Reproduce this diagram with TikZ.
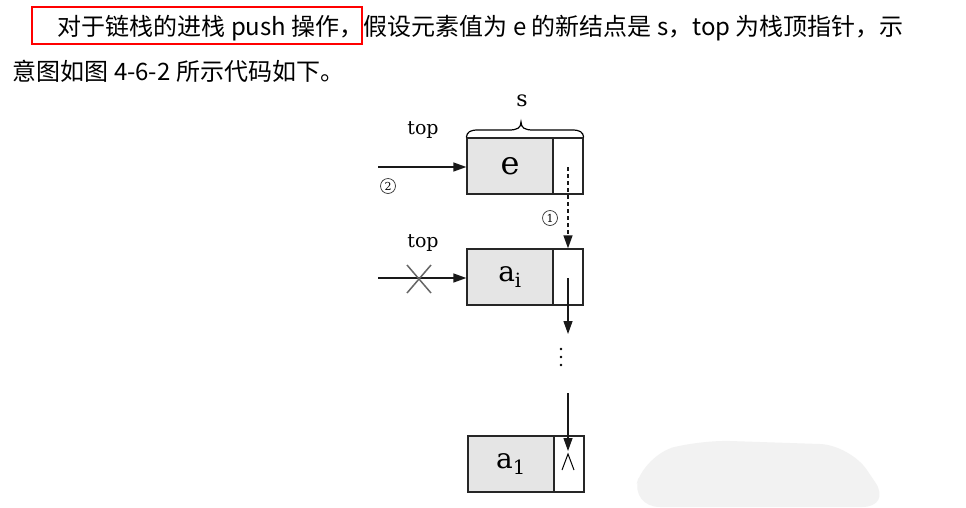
\documentclass[tikz,border=0pt]{standalone}
\usepackage{fontspec}
\newfontfamily\cjk{Noto Sans CJK SC}
\newfontfamily\dser{DejaVu Serif}
\usetikzlibrary{arrows.meta,calc}
\begin{document}
\begin{tikzpicture}[x=1pt,y=-1pt,
  line width=1.3pt,
  data/.style={draw=black!85,fill=black!10,minimum width=86pt,minimum height=56pt,inner sep=0pt,font=\dser\fontsize{28}{30}\selectfont},
  ptr/.style={draw=black!85,fill=white,minimum width=30pt,minimum height=56pt,inner sep=0pt},
  lab/.style={font=\dser\fontsize{19}{21}\selectfont,inner sep=0pt},
  circ/.style={circle,draw=black!80,line width=0.7pt,minimum size=15pt,inner sep=0pt,font=\dser\fontsize{11}{11}\selectfont},
  arr/.style={-{Triangle[length=13pt,width=9pt]},black!90},
  para/.style={font=\cjk\fontsize{24}{26}\selectfont,inner sep=0pt,anchor=base west}]
\useasboundingbox (0,0) rectangle (966,507);
\fill[white] (0,0) rectangle (966,507);
% faint watermark
\fill[black!5,rounded corners=30pt] (630,507) -- (645,455) -- (700,440) -- (850,445) -- (892,507) -- cycle;
% paragraph text
\node[para] (t1) at (57,35) {对于链栈的进栈 push 操作，假设元素值为 e 的新结点是 s，top 为栈顶指针，示};
\node[para] (t2) at (12,80) {意图如图 4-6-2 所示代码如下。};
\draw[red,line width=2pt] (32,7) rectangle (362,44);
% node s (e)
\node[data,font=\dser\fontsize{32}{34}\selectfont] (eD) at (510,166) {e};
\node[ptr] (eP) at (568,166) {};
\draw[line width=1.2pt] (eD.north west) .. controls (467,132) and (470,130) .. (478,130) -- (509,130)
  .. controls (517,130) and (521,128) .. (521,122) .. controls (521,128) and (525,130) .. (533,130)
  -- (572,130) .. controls (580,130) and (583,132) .. (eP.north east);
\node[lab,font=\dser\fontsize{22}{24}\selectfont] (s) at (522,101) {s};
\node[lab] (top1) at (423,130) {top};
\coordinate (src1) at (378,167);
\draw[arr] (src1) -- (eD.west|-src1);
\node[circ] (c2) at (388,186) {2};
% node ai
\node[data] (aiD) at (510,277) {a\textsubscript{i}};
\node[ptr] (aiP) at (568,277) {};
\node[lab] (top2) at (423,243) {top};
\coordinate (src2) at (378,278);
\draw[arr] (src2) -- (aiD.west|-src2);
\coordinate (xc) at (419,279);
\draw[black!60,line width=1.5pt] ($(xc)+(-12,-14)$) -- ($(xc)+(12,14)$) ($(xc)+(-12,14)$) -- ($(xc)+(12,-14)$);
% dashed pointer 1
\coordinate (d1) at (568,167);
\draw[arr,dashed,dash pattern=on 4pt off 3pt] (d1) -- (aiP.north);
\node[circ] (c1) at (550,218) {1};
% ai -> down
\coordinate (p2) at (568,278);
\coordinate (p2e) at (568,334);
\draw[arr] (p2) -- (p2e);
% dots
\fill (561,349) circle (1.4pt) (561,357) circle (1.4pt) (561,365) circle (1.4pt);
% node a1
\node[data] (a1D) at (511,464) {a\textsubscript{1}};
\node[ptr] (a1P) at (569,464) {};
\coordinate (p3) at (568,393);
\draw[arr] (p3) -- (568,451);
\draw[line width=1pt] (562,470) -- (568,454) -- (574,470);
\end{tikzpicture}
\end{document}
